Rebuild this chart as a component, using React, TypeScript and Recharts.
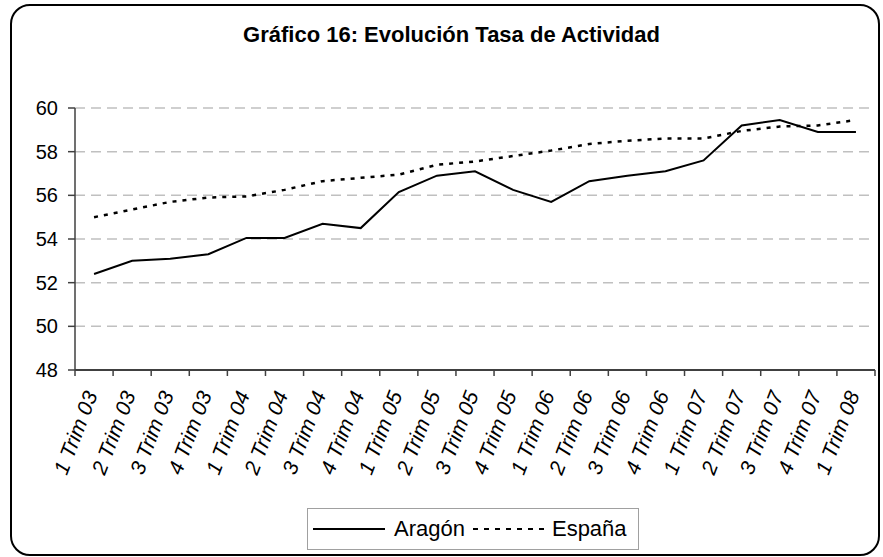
import React from 'react';
import { LineChart, Line, XAxis, YAxis, CartesianGrid, Legend } from 'recharts';

const categories = [
  '1 Trim 03', '2 Trim 03', '3 Trim 03', '4 Trim 03',
  '1 Trim 04', '2 Trim 04', '3 Trim 04', '4 Trim 04',
  '1 Trim 05', '2 Trim 05', '3 Trim 05', '4 Trim 05',
  '1 Trim 06', '2 Trim 06', '3 Trim 06', '4 Trim 06',
  '1 Trim 07', '2 Trim 07', '3 Trim 07', '4 Trim 07',
  '1 Trim 08',
];
const aragon = [52.4, 53.0, 53.1, 53.3, 54.05, 54.05, 54.7, 54.5, 56.15, 56.9, 57.1, 56.25, 55.7, 56.65, 56.9, 57.1, 57.6, 59.2, 59.45, 58.9, 58.9];
const espana = [55.0, 55.35, 55.7, 55.9, 55.95, 56.25, 56.65, 56.8, 56.95, 57.4, 57.55, 57.8, 58.05, 58.35, 58.5, 58.6, 58.6, 58.95, 59.15, 59.2, 59.45];
const yTicks = [48, 50, 52, 54, 56, 58, 60];
const seriesNames = ['Aragón', 'España'];
const title = 'Gráfico 16: Evolución Tasa de Actividad';

const data = categories.map((c, i) => ({ cat: c, aragon: aragon[i], espana: espana[i] }));

const FONT = '"Liberation Sans", Arial, sans-serif';

const XTick = (props: any) => {
  const { x, y, payload, index } = props;
  const half = payload && payload.offset ? payload.offset : 0;
  return (
    <g>
      <line x1={x - half} y1={y} x2={x - half} y2={y + 6} stroke="#404040" strokeWidth={1.5} />
      {index === categories.length - 1 && (
        <line x1={x + half} y1={y} x2={x + half} y2={y + 6} stroke="#404040" strokeWidth={1.5} />
      )}
      <g transform={`translate(${x - 3},${y + 22})`}>
        <text
          transform="rotate(-69)"
          textAnchor="end"
          dy="0.35em"
          fontSize={21}
          fontStyle="italic"
          fontFamily={FONT}
          fill="#000"
        >
          {payload.value}
        </text>
      </g>
    </g>
  );
};

const LegendContent = () => (
  <div
    style={{
      boxSizing: 'border-box',
      width: 332,
      height: 42,
      border: '1px solid #a0a0a0',
      background: '#fff',
      display: 'flex',
      alignItems: 'center',
      fontFamily: FONT,
      fontSize: 22,
      color: '#000',
      paddingLeft: 5,
      whiteSpace: 'nowrap',
    }}
  >
    <svg width={72} height={10} style={{ marginRight: 9, flex: 'none' }}>
      <line x1={0} y1={5} x2={72} y2={5} stroke="#000" strokeWidth={2} />
    </svg>
    <span>{seriesNames[0]}</span>
    <svg width={75} height={10} style={{ marginLeft: 8, marginRight: 4, flex: 'none' }}>
      <line x1={0} y1={5} x2={75} y2={5} stroke="#000" strokeWidth={2} strokeDasharray="5 6" />
    </svg>
    <span>{seriesNames[1]}</span>
  </div>
);

export default function App() {
  return (
    <div style={{ position: 'absolute', left: 0, top: 0, width: 883, height: 557, background: '#fff' }}>
      <div
        style={{
          position: 'absolute',
          left: 10,
          top: 4,
          width: 870,
          height: 552,
          boxSizing: 'border-box',
          border: '2px solid #000',
          borderRadius: 20,
        }}
      />
      <div
        style={{
          position: 'absolute',
          left: 0,
          top: 22,
          width: 903,
          textAlign: 'center',
          fontFamily: FONT,
          fontWeight: 'bold',
          fontSize: 22,
          color: '#000',
          lineHeight: '26px',
        }}
      >
        {title}
      </div>
      <div style={{ position: 'absolute', left: 0, top: 0 }}>
        <LineChart width={883} height={557} data={data} margin={{ top: 108, right: 8, bottom: 57, left: 15 }}>
          <CartesianGrid horizontal vertical={false} stroke="#c0c0c0" strokeWidth={1.5} strokeDasharray="10 6" />
          <XAxis
            dataKey="cat"
            scale="band"
            interval={0}
            height={130}
            tickLine={false}
            tickSize={0}
            tickMargin={0}
            axisLine={{ stroke: '#404040', strokeWidth: 2 }}
            tick={<XTick />}
          />
          <XAxis xAxisId="top" dataKey="cat" scale="band" orientation="top" height={0} tick={false} tickLine={false} axisLine={{ stroke: '#808080', strokeWidth: 2 }} />
          <YAxis
            domain={[48, 60]}
            ticks={yTicks}
            width={60}
            tickSize={7}
            tickMargin={10}
            interval={0}
            axisLine={{ stroke: '#404040', strokeWidth: 1.5 }}
            tickLine={{ stroke: '#404040', strokeWidth: 1.5 }}
            tick={{ fontSize: 20, fontFamily: FONT, fill: '#000' }}
          />
          <YAxis yAxisId="right" orientation="right" domain={[48, 60]} width={0} tick={false} tickLine={false} axisLine={{ stroke: '#808080', strokeWidth: 2 }} />
          <Line dataKey="aragon" name={seriesNames[0]} stroke="#000" strokeWidth={2} dot={false} isAnimationActive={false} />
          <Line dataKey="espana" name={seriesNames[1]} stroke="#000" strokeWidth={2.5} strokeDasharray="4 6" dot={false} isAnimationActive={false} />
          <Legend
            layout="horizontal"
            verticalAlign="middle"
            align="center"
            content={<LegendContent />}
            wrapperStyle={{ position: 'absolute', left: 307, top: 508, width: 332, height: 42 }}
          />
        </LineChart>
      </div>
    </div>
  );
}
